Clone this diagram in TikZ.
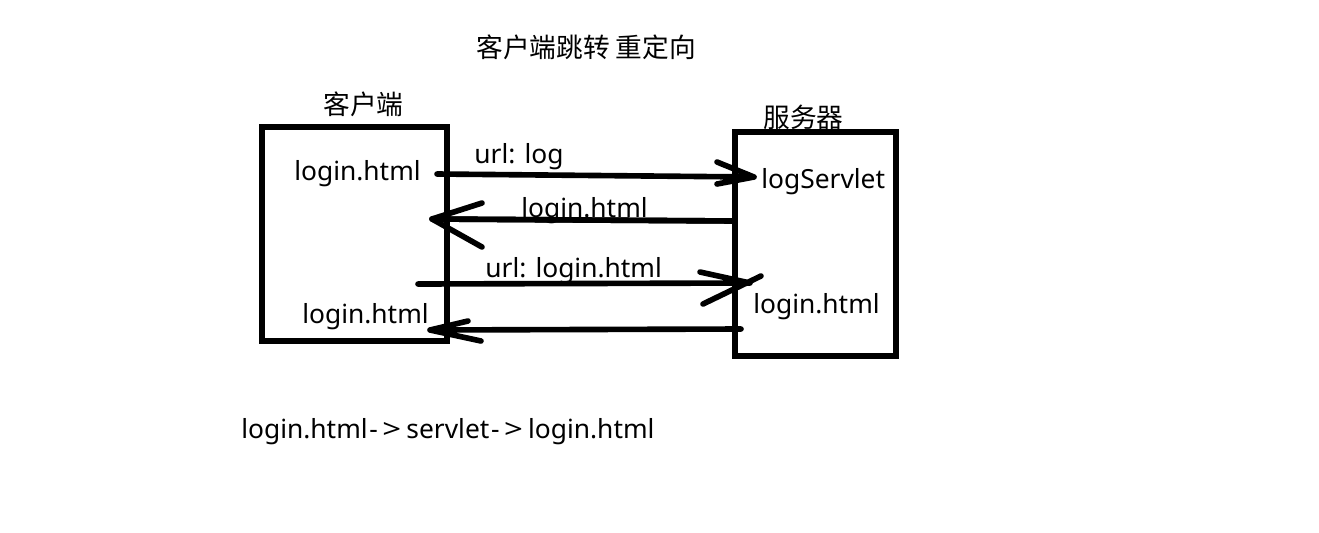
\documentclass[tikz,border=0pt]{standalone}
\usepackage{fontspec}
\setmainfont{Noto Sans}
\newfontfamily\cjk{Noto Sans CJK SC}
\usetikzlibrary{positioning}

\tikzset{
  box/.style={line width=3.2pt},
  msg/.style={line width=3.2pt, line cap=round},
  lbl/.style={font=\fontsize{15}{18}\selectfont, inner sep=0pt, anchor=base west},
  cjklbl/.style={font=\cjk\fontsize{15.2}{18}\selectfont, inner sep=0pt, anchor=base west},
}
\newcommand{\toarrow}{\kern1pt-\kern2.5pt\scalebox{1.25}[1]{>}\kern3pt}

\begin{document}
\begin{tikzpicture}[x=0.02cm, y=-0.02cm]

    \useasboundingbox[fill=white] (0,0) rectangle (1319,532);

    % Titles
    \node[cjklbl] (title) at (476,57) {客户端跳转 重定向};
    \node[cjklbl] (clientlbl) at (323,114) {客户端};
    \node[cjklbl] (serverlbl) at (763,127) {服务器};

    % Client and server
    \draw[box] (262,127) rectangle (447,341);
    \draw[box] (735,132) rectangle (896,356);

    % Pages
    \node[lbl] (cpage1) at (294,180) {login.html};
    \node[lbl] (cpage2) at (302,323) {login.html};
    \node[lbl] (servlet) at (761,188) {logServlet};
    \node[lbl] (spage) at (753,313) {login.html};

    % Messages
    \coordinate (m1s) at (437,174);
    \coordinate (m1e) at (754,177);
    \coordinate (m2s) at (735,221);
    \coordinate (m2e) at (432,219);
    \coordinate (m3s) at (418,284);
    \coordinate (m3e) at (750,283);
    \coordinate (m4s) at (741,329);
    \coordinate (m4e) at (430,330);

    \draw[msg] (m1s) -- (m1e) (m1e) -- ++(-37,-15) (m1e) -- ++(-37,7);
    \node[lbl] (url1) at (474,163) {url: log};

    \draw[msg] (m2s) -- (m2e) (m2e) -- ++(50,-16) (m2e) -- ++(50,28);
    \node[lbl] (back1) at (521,217) {login.html};
    \draw[msg] (m2s) -- (m2e);

    \draw[msg] (m3s) -- (m3e) (m3e) -- ++(-50,-11) (703,304) -- (761,276);
    \node[lbl] (url2) at (485,277) {url: login.html};

    \draw[msg] (m4s) -- (m4e) (m4e) -- ++(38,-9) (m4e) -- ++(51,11);

    % Path
    \node[lbl] (route) at (241,438) {login.html\toarrow servlet\toarrow login.html};

\end{tikzpicture}
\end{document}
